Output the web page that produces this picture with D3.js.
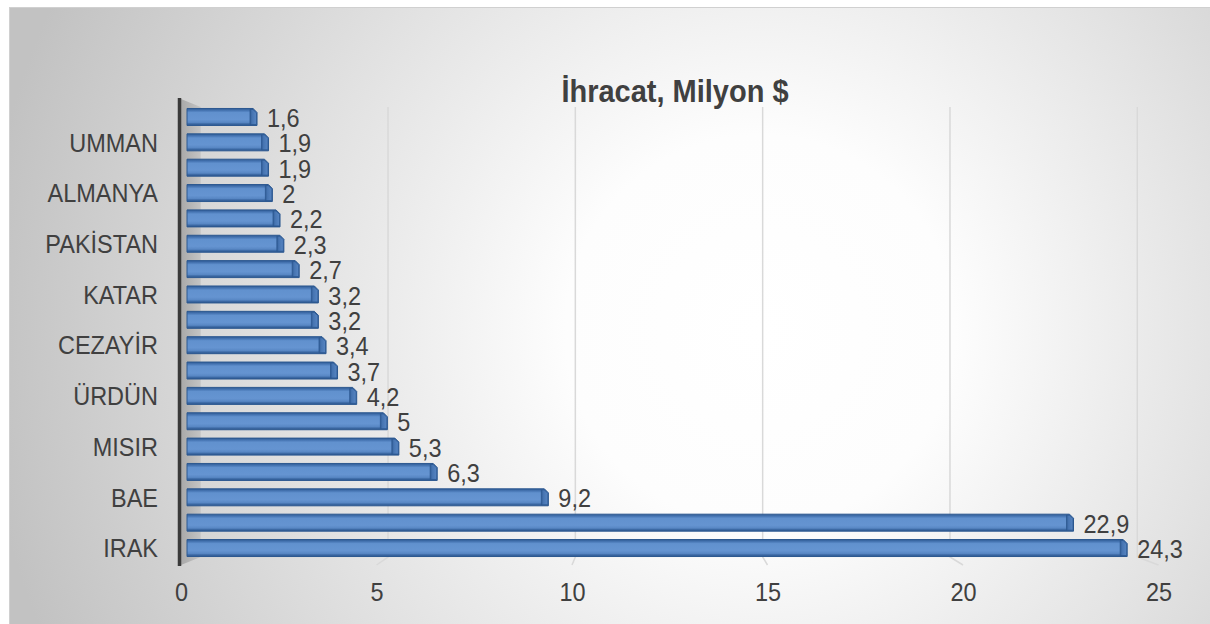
<!DOCTYPE html>
<html>
<head>
<meta charset="utf-8">
<script src="https://cdn.jsdelivr.net/npm/d3@7"></script>
<style>
  html, body { margin: 0; padding: 0; background: #ffffff; }
  svg { display: block; font-family: "Liberation Sans", Arial, sans-serif; }
</style>
</head>
<body>
<svg id="chart" width="1210" height="624"></svg>
<script>
// ---- data (bottom to top, as in the source chart) ----
const categories = ["IRAK", "İRAN", "BAE", "S. ARABİSTAN", "MISIR", "LİBYA", "ÜRDÜN", "İSRAİL",
  "CEZAYİR", "KUVEYT", "KATAR", "ABD", "PAKİSTAN", "LÜBNAN", "ALMANYA", "FAS", "UMMAN", "TÜRKMENİSTAN"];
const values = [24.3, 22.9, 9.2, 6.3, 5.3, 5, 4.2, 3.7, 3.4, 3.2, 3.2, 2.7, 2.3, 2.2, 2, 1.9, 1.9, 1.6];
const tickValues = [0, 5, 10, 15, 20, 25];
const title = "İhracat, Milyon $";

const svg = d3.select("#chart");
const W = 1210, H = 624;
const defs = svg.append("defs");
const FS = 23.5, SY = 1.1; // label font size and vertical stretch of the source

// background radial gradient
const bg = defs.append("radialGradient").attr("id", "bgGrad")
  .attr("gradientUnits", "userSpaceOnUse").attr("cx", 760).attr("cy", 330).attr("r", 780);
bg.append("stop").attr("offset", "0").attr("stop-color", "#ffffff");
bg.append("stop").attr("offset", "0.25").attr("stop-color", "#fdfdfd");
bg.append("stop").attr("offset", "0.6").attr("stop-color", "#e2e2e2");
bg.append("stop").attr("offset", "1").attr("stop-color", "#c2c2c2");

// bar body gradient
const bgBar = defs.append("linearGradient").attr("id", "barGrad").attr("x1", 0).attr("y1", 0).attr("x2", 0).attr("y2", 1);
[["0", "#2f5b95"], ["0.14", "#4a79b7"], ["0.24", "#6191ce"], ["0.65", "#6594d1"], ["0.82", "#5887c4"], ["0.9", "#3d6aa5"], ["1", "#2c568e"]]
  .forEach(([o, c]) => bgBar.append("stop").attr("offset", o).attr("stop-color", c));
const capGrad = defs.append("linearGradient").attr("id", "capGrad").attr("x1", 0).attr("y1", 0).attr("x2", 1).attr("y2", 0);
[["0", "#2f5b95"], ["0.3", "#4674b1"], ["1", "#5785c2"]]
  .forEach(([o, c]) => capGrad.append("stop").attr("offset", o).attr("stop-color", c));
const wallGrad = defs.append("linearGradient").attr("id", "wallGrad").attr("x1", 0).attr("y1", 0).attr("x2", 1).attr("y2", 0);
[["0", "#a9a9a9"], ["1", "#c4c4c4"]]
  .forEach(([o, c]) => wallGrad.append("stop").attr("offset", o).attr("stop-color", c));

svg.append("rect").attr("x", 0).attr("y", 0).attr("width", W).attr("height", H).attr("fill", "#ffffff");
svg.append("rect").attr("x", 9.5).attr("y", 7.5).attr("width", W).attr("height", H)
  .attr("fill", "url(#bgGrad)").attr("stroke", "#d0d0d0").attr("stroke-width", 1);

// ---- scales ----
const xFront = d3.scaleLinear().domain([0, 25]).range([181, 1158.5]); // axis labels plane
const xBack = d3.scaleLinear().domain([0, 25]).range([200.7, 1137.3]); // back wall gridlines
const xBar = d3.scaleLinear().domain([0, 25]).range([195.7, 1154]);    // bar ends (incl. cap)
const y = d3.scaleBand().domain(categories.slice().reverse())
  .range([104.3, 560.7]).paddingInner(0.33).paddingOuter(0.165);

const backTop = 107, backBottom = 557, frontBottom = 565;

// gridlines (back wall + floor diagonals)
const grid = svg.append("g").attr("class", "grid");
tickValues.filter(t => t > 0).forEach(t => {
  grid.append("path")
    .attr("d", `M${xBack(t)},${backTop} L${xBack(t)},${backBottom} L${xFront(t)},${frontBottom}`)
    .attr("fill", "none").attr("stroke", "#d9d9d9").attr("stroke-width", 1.5);
});

// side wall
svg.append("path")
  .attr("d", `M181,99 L${xBack(0)},${backTop} L${xBack(0)},${backBottom} L181,${frontBottom} Z`)
  .attr("fill", "url(#wallGrad)");
// axis line
svg.append("line").attr("x1", 179.5).attr("x2", 179.5).attr("y1", 98).attr("y2", 566)
  .attr("stroke", "#3a3a3a").attr("stroke-width", 3.5);

// ---- bars ----
const barStart = 187, capW = 7;
const bars = svg.append("g").selectAll("g").data(categories.map((c, i) => ({ c, v: values[i] })))
  .join("g");
bars.append("path")
  .attr("d", d => {
    const x1 = xBar(d.v), t = y(d.c), b = t + y.bandwidth();
    return `M${barStart},${t} L${x1 - 4},${t} L${x1},${t + 4} L${x1},${b} L${barStart},${b} Z`;
  })
  .attr("fill", "url(#barGrad)").attr("stroke", "#2c5890").attr("stroke-width", 1);
bars.append("path")
  .attr("d", d => {
    const x1 = xBar(d.v), t = y(d.c), b = t + y.bandwidth();
    return `M${x1 - capW},${t + 1} L${x1 - 4},${t + 1} L${x1 - 0.5},${t + 4.5} L${x1 - 0.5},${b - 1} L${x1 - capW},${b - 1} Z`;
  })
  .attr("fill", "url(#capGrad)").attr("stroke", "#2c5890").attr("stroke-width", 0.8);

// value labels
svg.append("g").selectAll("text").data(categories.map((c, i) => ({ c, v: values[i] })))
  .join("text")
  .attr("transform", d => `translate(${xBar(d.v) + 10},${y(d.c) + y.bandwidth() / 2 + 1}) scale(1,${SY})`)
  .attr("dy", "0.35em")
  .attr("font-size", FS).attr("fill", "#404040")
  .text(d => String(d.v).replace(".", ","));

// category axis (every other label shown, as in the source)
const yAxis = svg.append("g").attr("transform", "translate(181,1)")
  .call(d3.axisLeft(y).tickValues(categories.filter((c, i) => i % 2 === 0)).tickSize(0).tickPadding(23));
yAxis.select(".domain").remove();
yAxis.selectAll("text").attr("font-size", FS).attr("fill", "#404040")
  .attr("font-family", "'Liberation Sans', Arial, sans-serif")
  .attr("transform", `scale(1,${SY})`);

// value axis labels
const xAxis = svg.append("g").attr("transform", `translate(0,${frontBottom})`)
  .call(d3.axisBottom(xFront).tickValues(tickValues).tickSize(0).tickPadding(16).tickFormat(d3.format("d")));
xAxis.select(".domain").remove();
xAxis.selectAll("text").attr("font-size", FS).attr("fill", "#404040")
  .attr("font-family", "'Liberation Sans', Arial, sans-serif")
  .attr("transform", `scale(1,${SY})`);

// title
svg.append("text").attr("transform", `translate(675,102) scale(1,1.05)`).attr("text-anchor", "middle")
  .attr("font-size", 29).attr("font-weight", "bold").attr("fill", "#404040")
  .text(title);
</script>
</body>
</html>
